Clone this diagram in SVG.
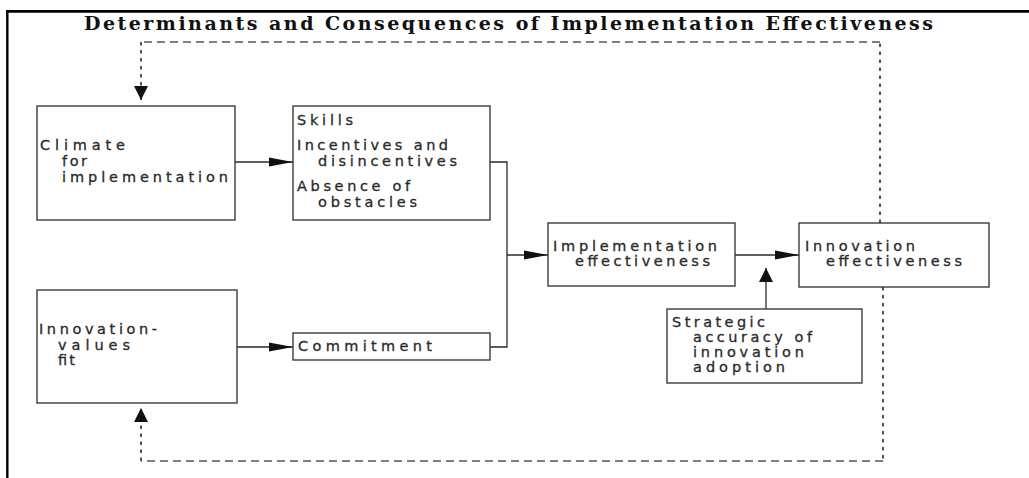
<svg xmlns="http://www.w3.org/2000/svg" width="1029" height="478" viewBox="0 0 1029 478">
  <style>
    .frame { stroke: #000; fill: none; }
    .box { fill: #fff; stroke: #3c3c3c; stroke-width: 1.4; }
    .lbl { font-family: "DejaVu Sans", "Liberation Sans", sans-serif; font-size: 14.5px; fill: #2a2a2a; stroke: #2a2a2a; stroke-width: 0.3; }
    .title { font-family: "DejaVu Serif", "Liberation Serif", serif; font-size: 19px; font-weight: bold; fill: #111; }
    .link { fill: none; stroke: #2a2a2a; stroke-width: 1.3; }
    .fb-h { fill: none; stroke: #555; stroke-width: 1.6; stroke-dasharray: 8 5; }
    .fb-v { fill: none; stroke: #555; stroke-width: 2; stroke-dasharray: 3.5 4.5; }
  </style>
  <defs>
    <marker id="headH" markerUnits="userSpaceOnUse" markerWidth="26" markerHeight="12" refX="24" refY="5" orient="auto">
      <path d="M0,0.5 L24,5 L0,9.5 Z" fill="#111"/>
    </marker>
    <marker id="headV" markerUnits="userSpaceOnUse" markerWidth="16" markerHeight="16" refX="14" refY="7" orient="auto">
      <path d="M0,0 L14,7 L0,14 Z" fill="#111"/>
    </marker>
  </defs>

  <rect width="1029" height="478" fill="#fff"/>

  <!-- outer frame: top and left rules -->
  <line class="frame" x1="6" y1="11.3" x2="1029" y2="11.3" stroke-width="2.8"/>
  <line class="frame" x1="7.3" y1="10" x2="7.3" y2="478" stroke-width="2.4"/>

  <text class="title" x="84" y="29.5" textLength="849" lengthAdjust="spacing">Determinants and Consequences of Implementation Effectiveness</text>

  <!-- connectors -->
  <g id="connectors">
    <line class="link" x1="235" y1="162" x2="293" y2="162" marker-end="url(#headH)"/>
    <line class="link" x1="237" y1="347" x2="293" y2="347" marker-end="url(#headH)"/>
    <path class="link" d="M490,162 H507 V347 H490"/>
    <line class="link" x1="507" y1="255" x2="548" y2="255" marker-end="url(#headH)"/>
    <line class="link" x1="735" y1="255" x2="799" y2="255" marker-end="url(#headH)"/>
    <line class="link" x1="766" y1="309" x2="766" y2="268" marker-end="url(#headV)"/>

    <!-- feedback loop to climate -->
    <line class="fb-v" x1="880" y1="223" x2="880" y2="42"/>
    <line class="fb-h" x1="880" y1="42" x2="141" y2="42"/>
    <line class="fb-v" x1="141" y1="42" x2="141" y2="100" marker-end="url(#headV)"/>

    <!-- feedback loop to innovation-values fit -->
    <line class="fb-v" x1="883" y1="287" x2="883" y2="461"/>
    <line class="fb-h" x1="883" y1="461" x2="141" y2="461"/>
    <line class="fb-v" x1="141" y1="461" x2="141" y2="408" marker-end="url(#headV)"/>
  </g>

  <g id="climate">
    <rect class="box" x="37" y="106" width="198" height="114"/>
    <text class="lbl" x="40" y="150" textLength="85" lengthAdjust="spacing">Climate</text>
    <text class="lbl" x="62" y="166" textLength="25" lengthAdjust="spacing">for</text>
    <text class="lbl" x="62" y="182" textLength="166" lengthAdjust="spacing">implementation</text>
  </g>

  <g id="conditions">
    <rect class="box" x="293" y="106" width="197" height="114"/>
    <text class="lbl" x="297" y="125" textLength="56" lengthAdjust="spacing">Skills</text>
    <text class="lbl" x="297" y="150" textLength="151" lengthAdjust="spacing">Incentives and</text>
    <text class="lbl" x="318" y="166" textLength="139" lengthAdjust="spacing">disincentives</text>
    <text class="lbl" x="297" y="191" textLength="113" lengthAdjust="spacing">Absence of</text>
    <text class="lbl" x="318" y="207" textLength="99" lengthAdjust="spacing">obstacles</text>
  </g>

  <g id="values-fit">
    <rect class="box" x="37" y="290" width="200" height="113"/>
    <text class="lbl" x="39" y="334" textLength="118" lengthAdjust="spacing">Innovation-</text>
    <text class="lbl" x="58" y="350" textLength="72" lengthAdjust="spacing">values</text>
    <text class="lbl" x="58" y="365" textLength="17" lengthAdjust="spacing">fit</text>
  </g>

  <g id="commitment">
    <rect class="box" x="293" y="333" width="197" height="27"/>
    <text class="lbl" x="298" y="351" textLength="134" lengthAdjust="spacing">Commitment</text>
  </g>

  <g id="implementation">
    <rect class="box" x="548" y="223" width="187" height="63"/>
    <text class="lbl" x="553" y="250.5" textLength="164" lengthAdjust="spacing">Implementation</text>
    <text class="lbl" x="575" y="265.5" textLength="135" lengthAdjust="spacing">effectiveness</text>
  </g>

  <g id="innovation">
    <rect class="box" x="799" y="223" width="190" height="64"/>
    <text class="lbl" x="805" y="251" textLength="110" lengthAdjust="spacing">Innovation</text>
    <text class="lbl" x="826" y="266" textLength="136" lengthAdjust="spacing">effectiveness</text>
  </g>

  <g id="strategic">
    <rect class="box" x="667" y="309" width="195" height="74"/>
    <text class="lbl" x="672" y="327" textLength="93" lengthAdjust="spacing">Strategic</text>
    <text class="lbl" x="693" y="342" textLength="119" lengthAdjust="spacing">accuracy of</text>
    <text class="lbl" x="693" y="357" textLength="111" lengthAdjust="spacing">innovation</text>
    <text class="lbl" x="693" y="372" textLength="92" lengthAdjust="spacing">adoption</text>
  </g>
</svg>
